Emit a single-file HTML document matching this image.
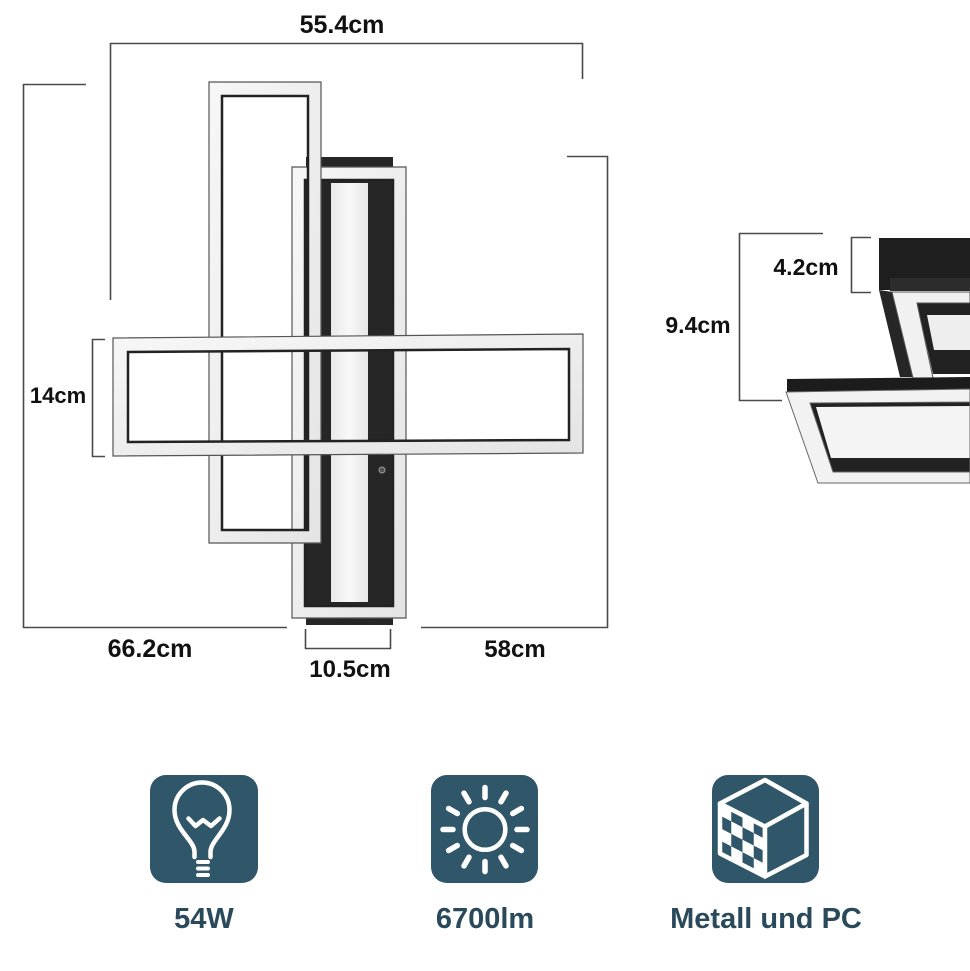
<!DOCTYPE html>
<html><head><meta charset="utf-8"><style>
html,body{margin:0;padding:0;background:#fff}
svg{display:block}
text{font-family:"Liberation Sans",Arial,sans-serif;font-weight:bold}
</style></head><body>
<svg width="970" height="971" viewBox="0 0 970 971" xmlns="http://www.w3.org/2000/svg">
<defs>
<linearGradient id="fw" x1="0" y1="0" x2="1" y2="1">
<stop offset="0" stop-color="#f7f7f7"/><stop offset="1" stop-color="#e4e4e4"/>
</linearGradient>
<linearGradient id="strip" x1="0" y1="0" x2="1" y2="0">
<stop offset="0" stop-color="#e9e9e9"/><stop offset="0.5" stop-color="#f8f8f8"/><stop offset="1" stop-color="#e6e6e6"/>
</linearGradient>
<pattern id="chk" patternUnits="userSpaceOnUse" width="20" height="20" patternTransform="matrix(1.125 0.585 0 1.25 720 803)">
<rect width="20" height="20" fill="#fff"/>
<rect x="0" y="10" width="10" height="10" fill="#2f5669"/>
<rect x="10" y="0" width="10" height="10" fill="#2f5669"/>
</pattern>
</defs>
<rect width="970" height="971" fill="#fff"/>

<!-- dimension lines -->
<g fill="none" stroke="#4a4a4a" stroke-width="1.6">
<path d="M110.5,300 V43.5 H582.5 V79"/>
<path d="M86,84.5 H23.5 V627.5 H287"/>
<path d="M567,156.5 H607.5 V627.5 H421"/>
<path d="M105,339.5 H92.5 V456.5 H105"/>
<path d="M305.5,629 V648.5 H390.5 V629"/>
<path d="M823,233.5 H739.5 V400.5 H782"/>
<path d="M871,237.5 H851.5 V292.5 H871"/>
</g>

<!-- front view lamp -->
<rect x="306" y="157" width="87" height="468" fill="#262626"/>
<!-- frame B -->
<path d="M292,167 H406 V618 H292 Z M305,180 V606 H393 V180 Z" fill="url(#fw)" fill-rule="evenodd" stroke="#555" stroke-width="1.2"/>
<rect x="305" y="180" width="88" height="426" fill="none" stroke="#222" stroke-width="2.5"/>
<rect x="331" y="183" width="37" height="419" fill="url(#strip)"/>
<circle cx="382" cy="470" r="3" fill="#555" stroke="#999" stroke-width="1"/>
<!-- frame A -->
<path d="M209,82 H321 V543 H209 Z M222,96 V530 H308 V96 Z" fill="url(#fw)" fill-rule="evenodd" stroke="#555" stroke-width="1.2"/>
<rect x="222" y="96" width="86" height="434" fill="none" stroke="#222" stroke-width="2.5"/>
<!-- frame C -->
<path d="M113,338 L583,334 L583,453 L113,456 Z M128,352 L128,442 L569,440 L569,349 Z" fill="url(#fw)" fill-rule="evenodd" stroke="#555" stroke-width="1.2"/>
<path d="M128,352 L128,442 L569,440 L569,349 Z" fill="none" stroke="#222" stroke-width="2.5"/>

<!-- side view lamp -->
<polygon points="879,238 970,238 970,290 879,290" fill="#1e1e1e"/>
<polygon points="890,278 970,278 970,291 890,291" fill="#2c2c2c"/>
<polygon points="879,290 893,292 914,377 900,377" fill="#262626"/>
<polygon points="917,303 970,303 970,374 933,374" fill="#222"/>
<polygon points="927,315 970,315 970,350 934,350" fill="#eeeeee"/>
<polygon points="892,292 970,292 970,303 917,303 933,378 913,378" fill="#f1f1f1" stroke="#555" stroke-width="1"/>
<polygon points="787,379 970,377 970,389 787,392" fill="#1c1c1c"/>
<polygon points="810,403 970,402 970,472 833,472" fill="#222"/>
<polygon points="816,407 970,406 970,458 831,458" fill="#f4f4f4"/>
<path d="M786,392 L970,389 L970,483 L818,483 Z M810,403 L833,472 L970,472 L970,402 Z" fill="#f2f2f2" fill-rule="evenodd" stroke="#666" stroke-width="1"/>

<!-- dimension labels -->
<g fill="#111">
<text x="342" y="33" font-size="25" text-anchor="middle">55.4cm</text>
<text x="58" y="403" font-size="22" text-anchor="middle">14cm</text>
<text x="150" y="657" font-size="25" text-anchor="middle">66.2cm</text>
<text x="515" y="657" font-size="24" text-anchor="middle">58cm</text>
<text x="350" y="677" font-size="24" text-anchor="middle">10.5cm</text>
<text x="698" y="333" font-size="23" text-anchor="middle">9.4cm</text>
<text x="806" y="275" font-size="23" text-anchor="middle">4.2cm</text>
</g>

<!-- icon 1: bulb -->
<rect x="150" y="775" width="108" height="108" rx="16" fill="#2f5669"/>
<g fill="none" stroke="#fff" stroke-width="4.5" stroke-linecap="round" stroke-linejoin="round">
<path d="M194.5,857 L194.5,852 C194.5,840 174.5,830 174.5,810 A27.5,27.5 0 1 1 229.5,810 C229.5,830 210.5,840 210.5,852 L210.5,857"/>
<path d="M198,862 H208 M198,868.5 H208 M198,875 H208" stroke-width="4"/>
<path d="M188.5,818.5 L195.5,826 L203,820 L211,826 L219.5,818.5"/>
</g>

<!-- icon 2: sun -->
<rect x="431" y="775" width="107" height="108" rx="16" fill="#2f5669"/>
<g fill="none" stroke="#fff" stroke-linecap="round">
<circle cx="485" cy="829.5" r="20.3" stroke-width="4.5"/>
<g stroke-width="5.5" transform="translate(485 829.5)">
<line x1="0" y1="-32" x2="0" y2="-42"/>
<line x1="0" y1="-32" x2="0" y2="-42" transform="rotate(30)"/>
<line x1="0" y1="-32" x2="0" y2="-42" transform="rotate(60)"/>
<line x1="0" y1="-32" x2="0" y2="-42" transform="rotate(90)"/>
<line x1="0" y1="-32" x2="0" y2="-42" transform="rotate(120)"/>
<line x1="0" y1="-32" x2="0" y2="-42" transform="rotate(150)"/>
<line x1="0" y1="-32" x2="0" y2="-42" transform="rotate(180)"/>
<line x1="0" y1="-32" x2="0" y2="-42" transform="rotate(210)"/>
<line x1="0" y1="-32" x2="0" y2="-42" transform="rotate(240)"/>
<line x1="0" y1="-32" x2="0" y2="-42" transform="rotate(270)"/>
<line x1="0" y1="-32" x2="0" y2="-42" transform="rotate(300)"/>
<line x1="0" y1="-32" x2="0" y2="-42" transform="rotate(330)"/>
</g>
</g>

<!-- icon 3: cube -->
<rect x="712" y="775" width="107" height="108" rx="16" fill="#2f5669"/>
<g stroke="#fff" stroke-width="4.5" stroke-linejoin="round">
<polygon points="720,803.5 765,826.5 765,876.5 720,853.5" fill="url(#chk)"/>
<polygon points="765,780 806.5,803.5 765,826.5 720,803.5" fill="#2f5669"/>
<polygon points="765,826.5 806.5,803.5 806.5,855 765,876.5" fill="#2f5669"/>
</g>

<!-- icon labels -->
<g fill="#2a4a5c">
<text x="204" y="928" font-size="29" text-anchor="middle">54W</text>
<text x="485" y="928" font-size="29" text-anchor="middle">6700lm</text>
<text x="766" y="928" font-size="29" text-anchor="middle">Metall und PC</text>
</g>
</svg>
</body></html>
